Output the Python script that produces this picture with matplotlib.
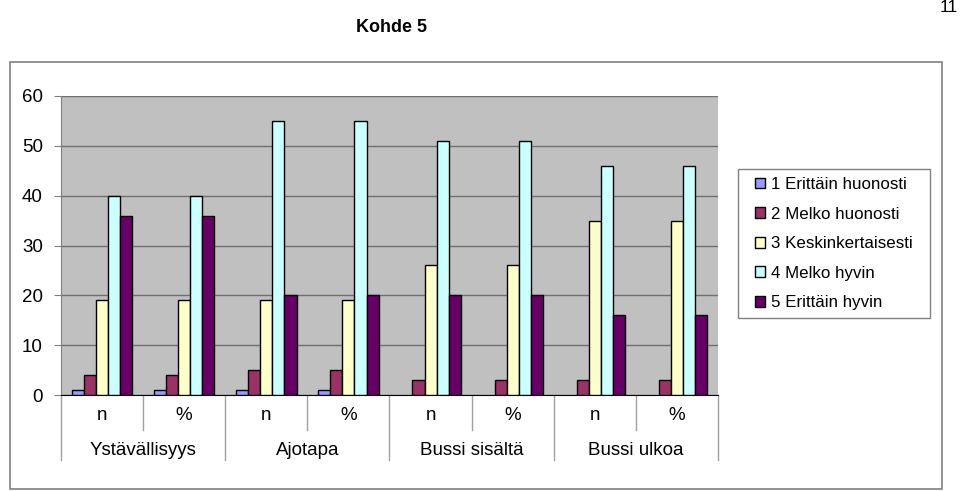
import numpy as np
import matplotlib
matplotlib.use('Agg')
from matplotlib import pyplot as plt
from matplotlib.patches import Rectangle

# data
kategoriat = ['n', '%', 'n', '%', 'n', '%', 'n', '%']
ryhmat = ['Ystävällisyys', 'Ajotapa', 'Bussi sisältä', 'Bussi ulkoa']
sarjat = ['1 Erittäin huonosti', '2 Melko huonosti', '3 Keskinkertaisesti',
          '4 Melko hyvin', '5 Erittäin hyvin']
s1 = [1, 1, 1, 1, 0, 0, 0, 0]
s2 = [4, 4, 5, 5, 3, 3, 3, 3]
s3 = [19, 19, 19, 19, 26, 26, 35, 35]
s4 = [40, 40, 55, 55, 51, 51, 46, 46]
s5 = [36, 36, 20, 20, 20, 20, 16, 16]
arvot = [s1, s2, s3, s4, s5]
varit = ['#9999FF', '#993366', '#FFFFCC', '#CCFFFF', '#660066']

plt.rcParams['font.family'] = ['Liberation Sans', 'DejaVu Sans']

fig = plt.figure(figsize=(9.6, 4.91), dpi=100)
W, H = 960, 491

# outer chart frame
fig.patches.append(Rectangle((10 / W, 1 - 489 / H), 932 / W, 427 / H,
                             transform=fig.transFigure, fill=False,
                             edgecolor='#808080', linewidth=1.2))
# legend frame
fig.patches.append(Rectangle((738 / W, 1 - 318 / H), 192 / W, 149 / H,
                             transform=fig.transFigure, fill=False,
                             edgecolor='#808080', linewidth=1.0))

ax = fig.add_axes([61 / W, 1 - 395 / H, 657 / W, 299 / H])
ax.set_facecolor('#C0C0C0')

x = np.arange(len(kategoriat))
w = 1 / 6.8
for i, (vals, c) in enumerate(zip(arvot, varit)):
    bars = ax.bar(x + (i - 2) * w, vals, width=w, color=c, edgecolor='black',
                  linewidth=1.0, label=sarjat[i], zorder=3)
    for b, v in zip(bars, vals):
        if v == 0:
            b.set_visible(False)

ax.set_xlim(-0.5, len(kategoriat) - 0.5)
ax.set_ylim(0, 60)
ax.set_yticks(range(0, 61, 10))
ax.yaxis.grid(True, color='#707070', linewidth=1.0, zorder=0)
ax.tick_params(axis='y', labelsize=13.5, length=5, color='#808080', pad=8)
ax.set_xticks([])
for s in ['top', 'right']:
    ax.spines[s].set_visible(False)
ax.spines['left'].set_color('#808080')
ax.spines['bottom'].set_color('black')

tr = ax.get_xaxis_transform()
for i, k in enumerate(kategoriat):
    ax.text(i, -0.07, k, transform=tr, ha='center', va='center', fontsize=13.5)
for j, g in enumerate(ryhmat):
    ax.text(2 * j + 0.5, -0.184, g, transform=tr, ha='center', va='center', fontsize=13.5)
# category separator lines
for b in np.arange(-0.5, len(kategoriat), 1):
    if int(b + 0.5) % 2 == 0:
        ax.plot([b, b], [0, -0.217], transform=tr, color='#A0A0A0', lw=1, clip_on=False)
    else:
        ax.plot([b, b], [0, -0.117], transform=tr, color='#A0A0A0', lw=1, clip_on=False)

leg = fig.legend(loc='upper left', bbox_to_anchor=(755 / W, 1 - 177 / H),
                 fontsize=12.2, frameon=False,
                 handlelength=0.6, handleheight=0.6, handletextpad=0.35,
                 labelspacing=0.86, borderpad=0, borderaxespad=0)

fig.text(391 / W, 1 - 28 / H, 'Kohde 5', ha='center', va='center',
         fontsize=13, fontweight='bold')
fig.text(958 / W, 1 - 8 / H, '11', ha='right', va='center', fontsize=12.5)

fig.savefig('out.png', dpi=100)
